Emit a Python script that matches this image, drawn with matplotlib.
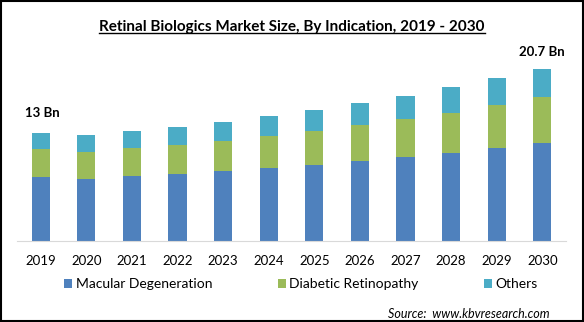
import matplotlib.pyplot as plt
import numpy as np
from matplotlib.lines import Line2D
from matplotlib.patches import Rectangle

plt.rcParams['font.family'] = ['Lato', 'DejaVu Sans']

years = ['2019', '2020', '2021', '2022', '2023', '2024',
         '2025', '2026', '2027', '2028', '2029', '2030']
macular = [7.69, 7.45, 7.81, 8.08, 8.44, 8.77, 9.13, 9.64, 10.09, 10.57, 11.17, 11.81]
diabetic = [3.36, 3.24, 3.40, 3.45, 3.60, 3.88, 4.12, 4.29, 4.56, 4.84, 5.16, 5.49]
others = [1.95, 2.08, 2.04, 2.20, 2.28, 2.40, 2.49, 2.68, 2.80, 3.12, 3.28, 3.40]
series_names = ['Macular Degeneration', 'Diabetic Retinopathy', 'Others']
colors = ['#4F81BD', '#9BBB59', '#4BACC6']

W, H = 584, 322
fig = plt.figure(figsize=(W / 100, H / 100), dpi=100)
ax = fig.add_axes([17 / W, 1 - 241 / H, (566 - 17) / W, (241 - 60) / H])

x = np.arange(len(years))
bottom = np.zeros(len(years))
handles = []
for vals, name, c in zip([macular, diabetic, others], series_names, colors):
    b = ax.bar(x, vals, width=0.4, bottom=bottom, color=c, label=name)
    handles.append(b)
    bottom = bottom + np.array(vals)

ax.set_xlim(-0.52, 11.52)
ax.set_ylim(0, 21.74)
ax.set_yticks([])
ax.set_xticks(x)
ax.set_xticklabels(years, fontsize=9.5)
ax.tick_params(axis='x', length=0, pad=10)
for s in ['top', 'right', 'left']:
    ax.spines[s].set_visible(False)
ax.spines['bottom'].set_color('#D9D9D9')

# end labels
totals = bottom
ax.annotate('13 Bn', (0, totals[0]), xytext=(-11, 10), textcoords='offset points',
            fontsize=9.5, fontweight='bold', ha='left', va='bottom')
ax.annotate('20.7 Bn', (11, totals[-1]), xytext=(-17, 8), textcoords='offset points',
            fontsize=9.5, fontweight='bold', ha='left', va='bottom')

title = fig.text(0.5, 1 - 27 / H, 'Retinal Biologics Market Size, By Indication, 2019 - 2030',
                 ha='center', va='center', fontsize=11, fontweight='bold')

fig.legend(handles=handles, labels=series_names, loc='center',
           bbox_to_anchor=(301 / W, 1 - 284 / H), ncol=3, frameon=False,
           fontsize=10, handlelength=0.6, handleheight=0.6, handletextpad=0.25,
           columnspacing=4.7)

fig.text(550 / W, 1 - 314 / H, 'Source:  www.kbvresearch.com', ha='right', va='center',
         fontsize=9, style='italic')

# underline for the title
fig.canvas.draw()
bb = title.get_window_extent().transformed(fig.transFigure.inverted())
fig.add_artist(Line2D([bb.x0, bb.x1], [bb.y0 + 0.002, bb.y0 + 0.002],
                      color='black', lw=1, transform=fig.transFigure))

# outer border
fig.add_artist(Rectangle((0.001, 0.002), 0.997, 0.995, fill=False, edgecolor='black',
                         lw=1.5, transform=fig.transFigure))

fig.savefig('out.png', dpi=100)
